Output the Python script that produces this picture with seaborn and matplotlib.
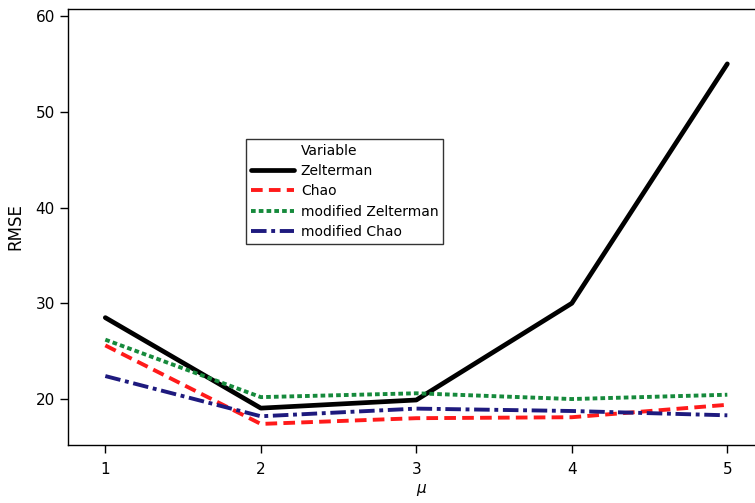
import matplotlib
matplotlib.use("Agg")
import matplotlib.pyplot as plt
from matplotlib.lines import Line2D
import seaborn as sns
import pandas as pd

mu = [1, 2, 3, 4, 5]
zelterman = [28.5, 19.05, 19.9, 30.0, 55.0]
chao = [25.6, 17.4, 18.0, 18.1, 19.4]
mod_zelterman = [26.2, 20.2, 20.6, 20.0, 20.45]
mod_chao = [22.4, 18.2, 19.0, 18.75, 18.3]
series_names = ["Zelterman", "Chao", "modified Zelterman", "modified Chao"]
yticks = [20, 30, 40, 50, 60]

df = pd.concat([
    pd.DataFrame({"mu": mu, "RMSE": vals, "Variable": name})
    for name, vals in zip(series_names, [zelterman, chao, mod_zelterman, mod_chao])
])

sns.set_style("white")
plt.rcParams['font.family'] = ['DejaVu Sans']
plt.rcParams['text.color'] = 'black'
plt.rcParams['axes.labelcolor'] = 'black'
plt.rcParams['xtick.color'] = 'black'
plt.rcParams['ytick.color'] = 'black'

fig = plt.figure(figsize=(7.55, 5.03), dpi=100)
ax = fig.add_axes([68/755, (503-445)/503, (775-68)/755, (445-9)/503])

palette = {"Zelterman": "#000000", "Chao": "#FF1A1A",
           "modified Zelterman": "#168A3C", "modified Chao": "#1E1A7E"}
dashes = {"Zelterman": "", "Chao": (3, 1.6), "modified Zelterman": (1.2, 0.8),
          "modified Chao": (4, 1.2, 1, 1.2)}
sizes = {"Zelterman": 3.4, "Chao": 2.8, "modified Zelterman": 2.8, "modified Chao": 2.8}

for name in series_names:
    sub = df[df["Variable"] == name]
    sns.lineplot(data=sub, x="mu", y="RMSE", ax=ax, color=palette[name],
                 linewidth=sizes[name], label=name)
    line = ax.lines[-1]
    if dashes[name]:
        line.set_dashes(dashes[name])

ax.set_xlim(0.76, 0.76 + (775-68)/155.5)
ax.set_ylim(15.2, 60.73)
ax.set_xticks(mu)
ax.set_yticks(yticks)
ax.tick_params(axis='both', direction='out', length=6, width=1, labelsize=11,
               color='black', labelcolor='black', bottom=True, left=True)
ax.xaxis.set_tick_params(pad=6)
for s in ["left", "bottom", "top"]:
    ax.spines[s].set_color("black")
    ax.spines[s].set_linewidth(1)
ax.spines["right"].set_visible(False)
ax.set_xlabel(r"$\mu$", fontsize=11)
ax.set_ylabel("RMSE", fontsize=12, labelpad=8)

handles, labels = ax.get_legend_handles_labels()
title_handle = Line2D([], [], alpha=0)
leg = ax.legend([title_handle] + handles, ["Variable"] + labels, loc="upper left",
                bbox_to_anchor=(246/755, 1-139/503), bbox_transform=fig.transFigure,
                frameon=True, fancybox=False, fontsize=10,
                handlelength=3.1, borderpad=0.35, labelspacing=0.45, handletextpad=0.5,
                borderaxespad=0)
leg.get_frame().set_edgecolor("black")
leg.get_frame().set_linewidth(1)

fig.savefig("out.png", dpi=100)
